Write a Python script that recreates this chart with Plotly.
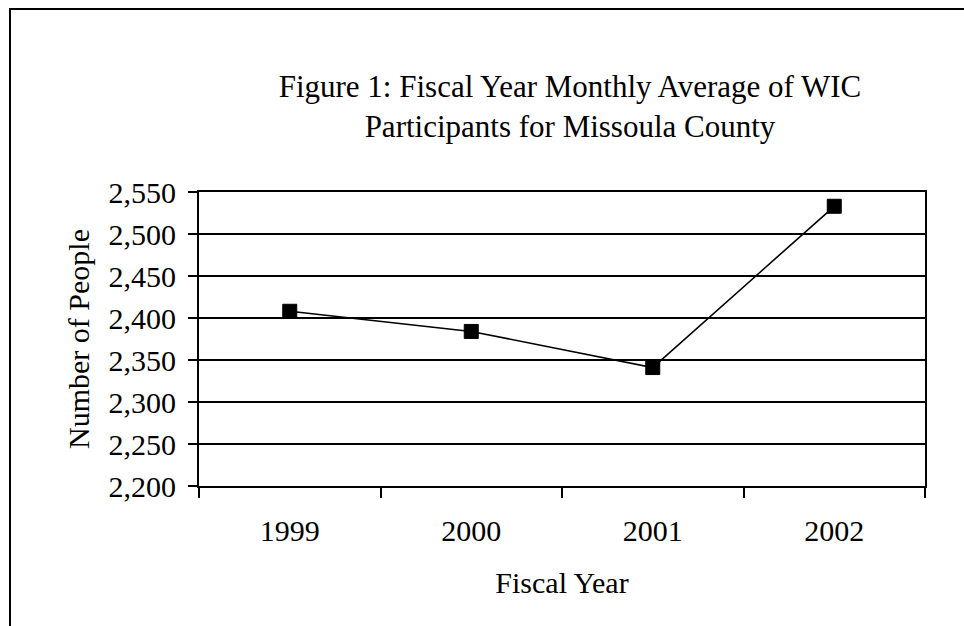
import plotly.graph_objects as go

years = ["1999", "2000", "2001", "2002"]
participants = [2408, 2384, 2341, 2533]
y_ticks = [2200, 2250, 2300, 2350, 2400, 2450, 2500, 2550]
y_tick_labels = [f"{v:,}" for v in y_ticks]

FONT = "Liberation Serif, Times New Roman, serif"
W, H = 964, 626
L, R, T, B = 199, 39, 192, 140
pw, ph = W - L - R, H - T - B

fig = go.Figure()
fig.add_trace(go.Scatter(
    x=years, y=participants, mode="lines+markers",
    line=dict(color="black", width=1.6),
    marker=dict(symbol="square", size=14, color="black",
                line=dict(color="black", width=1)),
    showlegend=False, hoverinfo="x+y",
))

def px_to_paper_x(px):
    return (px - L) / pw

def px_to_paper_y(py):
    return (H - B - py) / ph

fig.update_layout(
    width=W, height=H,
    margin=dict(l=L, r=R, t=T, b=B, pad=0),
    paper_bgcolor="white", plot_bgcolor="white",
    font=dict(family=FONT, color="black", size=30),
    title=dict(
        text="Figure 1: Fiscal Year Monthly Average of WIC<br>Participants for Missoula County",
        font=dict(family=FONT, size=31, color="black"),
        x=px_to_paper_x(570), xref="paper", xanchor="center",
        y=1 - 97 / H, yref="container", yanchor="middle",
    ),
    xaxis=dict(
        type="category", range=[-0.5, 3.5],
        tickson="boundaries", ticks="outside", ticklen=10, tickwidth=2, tickcolor="black",
        showline=True, linecolor="black", linewidth=2, mirror=True,
        showgrid=False, zeroline=False,
        tickfont=dict(family=FONT, size=30), ticklabelstandoff=17,
        title=dict(text="Fiscal Year", font=dict(family=FONT, size=30), standoff=26),
    ),
    yaxis=dict(
        range=[2200, 2550], tickvals=y_ticks, ticktext=y_tick_labels,
        ticks="outside", ticklen=9, tickwidth=2, tickcolor="black",
        showline=True, linecolor="black", linewidth=2, mirror=True,
        showgrid=True, gridcolor="black", gridwidth=1.6, zeroline=False,
        tickfont=dict(family=FONT, size=30), ticklabelstandoff=6,
        title=dict(text="Number of People", font=dict(family=FONT, size=30), standoff=10),
    ),
    shapes=[dict(
        type="rect", xref="paper", yref="paper",
        x0=px_to_paper_x(10), x1=px_to_paper_x(1100),
        y0=px_to_paper_y(700), y1=px_to_paper_y(9),
        line=dict(color="black", width=2), fillcolor="rgba(0,0,0,0)", layer="below",
    )],
)

fig.write_html("out.html")
